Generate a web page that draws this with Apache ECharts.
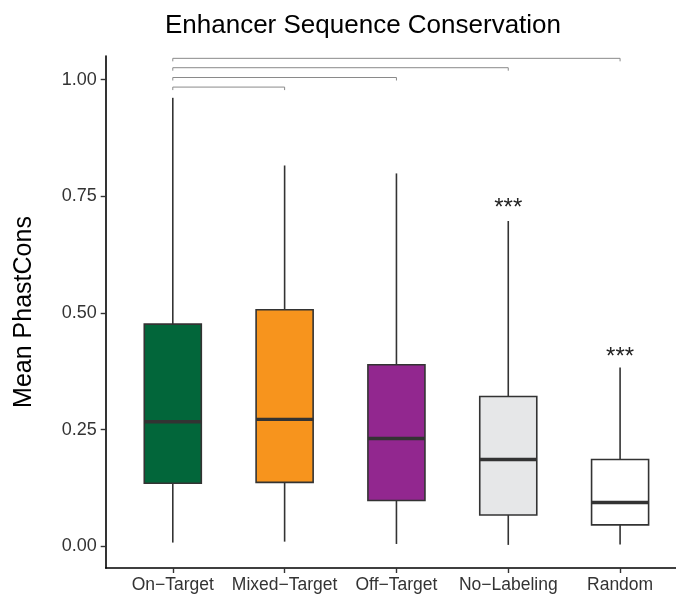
<!DOCTYPE html>
<html>
<head>
<meta charset="utf-8">
<script src="https://cdn.jsdelivr.net/npm/echarts@6/dist/echarts.min.js"></script>
<style>html,body{margin:0;padding:0;background:#fff}#c{width:676px;height:599px}</style>
</head>
<body>
<div id="c"></div>
<script>
const categories = ['On\u2212Target', 'Mixed\u2212Target', 'Off\u2212Target', 'No\u2212Labeling', 'Random'];
const mins    = [0.008, 0.010, 0.005, 0.003, 0.004];
const q1s     = [0.135, 0.137, 0.098, 0.067, 0.046];
const medians = [0.267, 0.272, 0.231, 0.186, 0.094];
const q3s     = [0.476, 0.507, 0.389, 0.321, 0.186];
const maxs    = [0.961, 0.816, 0.799, 0.697, 0.383];
const fills   = ['#02663A', '#F7941D', '#92278F', '#E6E7E8', '#FFFFFF'];
const yTicks  = [0, 0.25, 0.5, 0.75, 1.0];
const bracketStart = 0;
const bracketEnds = [1, 2, 3, 4];
const bracketHeights = [0.984, 1.0045, 1.0255, 1.0456];
const sigCategories = [3, 4];
const sigHeights = [0.726, 0.408];
const sigText = '***';

const FONT = "'Liberation Sans', Arial, sans-serif";
const chart = echarts.init(document.getElementById('c'), null, {renderer: 'canvas'});

const boxData = categories.map((c, i) => [i, mins[i], q1s[i], medians[i], q3s[i], maxs[i]]);
const bracketData = bracketEnds.map((e, i) => [bracketStart, e, bracketHeights[i]]);
const sigData = sigCategories.map((c, i) => [c, sigHeights[i]]);

chart.setOption({
  animation: false,
  backgroundColor: '#fff',
  title: {
    text: 'Enhancer Sequence Conservation',
    left: 358, top: 8, textAlign: 'center',
    textStyle: {fontFamily: FONT, fontSize: 26, fontWeight: 'normal', color: '#000'}
  },
  grid: {left: 105.7, right: 0, top: 56, bottom: 31, containLabel: false},
  xAxis: {
    type: 'value', min: -0.6, max: 4.5,
    splitLine: {show: false},
    axisLine: {show: true, onZero: false, lineStyle: {color: '#000', width: 1.6}},
    axisTick: {show: true, length: 5, customValues: categories.map((c, i) => i), lineStyle: {color: '#333', width: 1.4}},
    axisLabel: {
      customValues: categories.map((c, i) => i),
      formatter: v => categories[Math.round(v)],
      margin: 8, fontFamily: FONT, fontSize: 17.5, color: '#333'
    }
  },
  yAxis: {
    type: 'value', min: -0.0465, max: 1.0506,
    name: 'Mean PhastCons', nameLocation: 'middle', nameGap: 69,
    nameTextStyle: {fontFamily: FONT, fontSize: 25, color: '#000'},
    splitLine: {show: false},
    axisLine: {show: true, onZero: false, lineStyle: {color: '#000', width: 1.6}},
    axisTick: {show: true, length: 5, customValues: yTicks, lineStyle: {color: '#333', width: 1.4}},
    axisLabel: {
      customValues: yTicks,
      formatter: v => v.toFixed(2),
      margin: 9, fontFamily: FONT, fontSize: 18, color: '#333'
    }
  },
  series: [
    {
      type: 'custom',
      clip: false,
      data: boxData,
      encode: {x: 0, y: [1, 2, 3, 4, 5]},
      renderItem: function (params, api) {
        const i = params.dataIndex;
        const x = api.value(0);
        const pMin = api.coord([x, api.value(1)]);
        const pQ1 = api.coord([x, api.value(2)]);
        const pMed = api.coord([x, api.value(3)]);
        const pQ3 = api.coord([x, api.value(4)]);
        const pMax = api.coord([x, api.value(5)]);
        const w = api.size([0.51, 0])[0];
        const cx = pMed[0];
        const stroke = '#333';
        return {
          type: 'group',
          children: [
            {type: 'line', shape: {x1: cx, y1: pMin[1], x2: cx, y2: pQ1[1]}, style: {stroke: stroke, lineWidth: 1.6}},
            {type: 'line', shape: {x1: cx, y1: pQ3[1], x2: cx, y2: pMax[1]}, style: {stroke: stroke, lineWidth: 1.6}},
            {type: 'rect', shape: {x: cx - w / 2, y: pQ3[1], width: w, height: pQ1[1] - pQ3[1]}, style: {fill: fills[i], stroke: stroke, lineWidth: 1.6}},
            {type: 'line', shape: {x1: cx - w / 2, y1: pMed[1], x2: cx + w / 2, y2: pMed[1]}, style: {stroke: stroke, lineWidth: 3.4}}
          ]
        };
      }
    },
    {
      type: 'custom',
      clip: false,
      data: bracketData,
      encode: {x: [0, 1], y: 2},
      renderItem: function (params, api) {
        const a = api.coord([api.value(0), api.value(2)]);
        const b = api.coord([api.value(1), api.value(2)]);
        const t = 3;
        return {
          type: 'polyline',
          shape: {points: [[a[0], a[1] + t], [a[0], a[1]], [b[0], b[1]], [b[0], b[1] + t]]},
          style: {stroke: '#8a8a8a', lineWidth: 1, fill: null}
        };
      }
    },
    {
      type: 'custom',
      clip: false,
      data: sigData,
      encode: {x: 0, y: 1},
      renderItem: function (params, api) {
        const p = api.coord([api.value(0), api.value(1)]);
        return {
          type: 'text',
          style: {text: sigText, x: p[0], y: p[1] + 1, align: 'center', verticalAlign: 'middle',
                  font: '24px ' + FONT, fill: '#222'}
        };
      }
    }
  ]
});
</script>
</body>
</html>
